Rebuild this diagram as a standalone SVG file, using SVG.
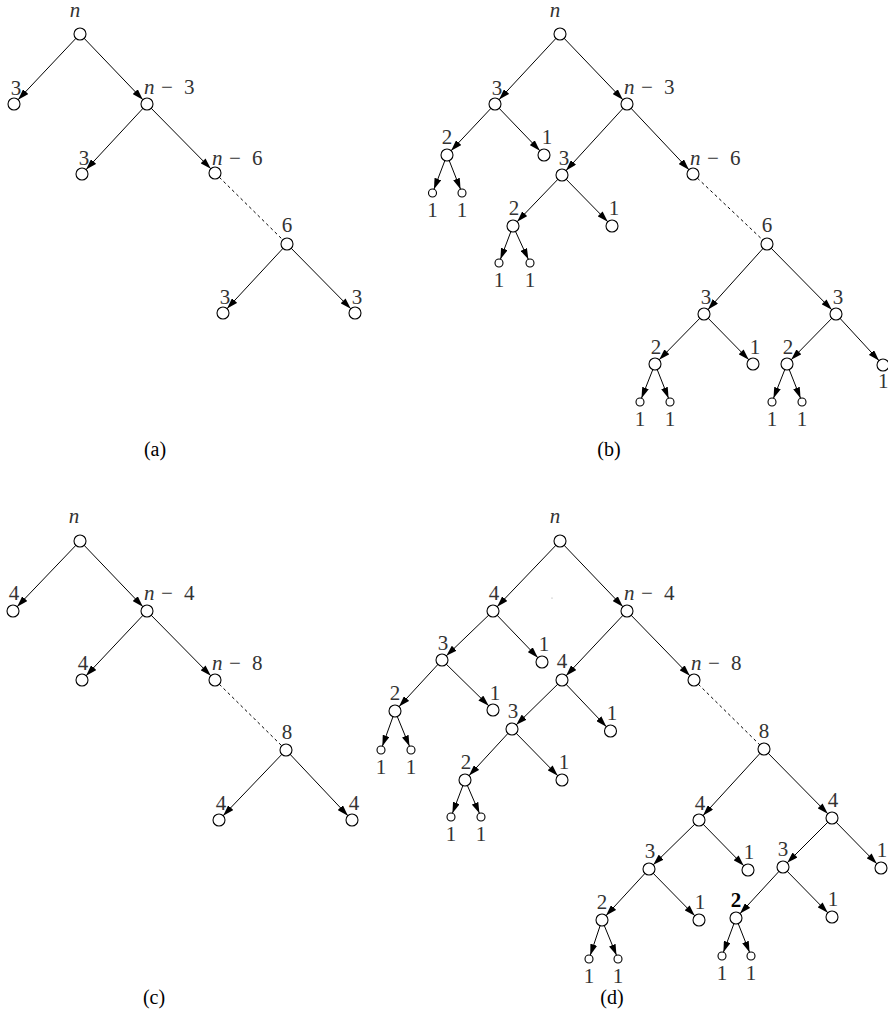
<svg xmlns="http://www.w3.org/2000/svg" width="888" height="1021" viewBox="0 0 888 1021">
<style>
text{font-family:"Liberation Serif","Times New Roman",serif;font-size:21px;fill:#333}
.m{text-anchor:middle}
.i{font-style:italic}
.cap{font-size:20px;fill:#000;text-anchor:middle}
circle{fill:#fff;stroke:#000;stroke-width:1.1}
line{stroke:#000;stroke-width:1}
.e{marker-end:url(#ah6)}
.el{marker-end:url(#ah4)}
.d{stroke-dasharray:3,3}
</style>
<defs>
<marker id="ah6" markerUnits="userSpaceOnUse" markerWidth="11" markerHeight="7" refX="17" refY="3.5" orient="auto"><path d="M0,0 L11,3.5 L0,7 z" fill="#000"/></marker>
<marker id="ah4" markerUnits="userSpaceOnUse" markerWidth="11" markerHeight="7" refX="15" refY="3.5" orient="auto"><path d="M0,0 L11,3.5 L0,7 z" fill="#000"/></marker>
</defs>
<g id="connectors">
<line class="e" x1="80" y1="34" x2="14" y2="104"/>
<line class="e" x1="80" y1="34" x2="147" y2="104"/>
<line class="e" x1="147" y1="104" x2="82" y2="174"/>
<line class="e" x1="147" y1="104" x2="215" y2="173"/>
<line class="d" x1="215" y1="173" x2="287" y2="244"/>
<line class="e" x1="287" y1="244" x2="223" y2="313"/>
<line class="e" x1="287" y1="244" x2="355" y2="313"/>
<line class="e" x1="560" y1="34" x2="495" y2="104"/>
<line class="e" x1="560" y1="34" x2="627" y2="104"/>
<line class="e" x1="495" y1="104" x2="447" y2="155"/>
<line class="e" x1="495" y1="104" x2="544" y2="155"/>
<line class="el" x1="447" y1="155" x2="432.5" y2="193"/>
<line class="el" x1="447" y1="155" x2="462" y2="193"/>
<line class="e" x1="627" y1="104" x2="562" y2="175"/>
<line class="e" x1="627" y1="104" x2="693" y2="174"/>
<line class="e" x1="562" y1="175" x2="513" y2="226"/>
<line class="e" x1="562" y1="175" x2="612" y2="226"/>
<line class="el" x1="513" y1="226" x2="499" y2="263"/>
<line class="el" x1="513" y1="226" x2="530" y2="263"/>
<line class="d" x1="693" y1="174" x2="767" y2="244"/>
<line class="e" x1="767" y1="244" x2="704" y2="314"/>
<line class="e" x1="767" y1="244" x2="836" y2="314"/>
<line class="e" x1="704" y1="314" x2="655" y2="364"/>
<line class="e" x1="704" y1="314" x2="753" y2="364"/>
<line class="el" x1="655" y1="364" x2="640" y2="402"/>
<line class="el" x1="655" y1="364" x2="670" y2="402"/>
<line class="e" x1="836" y1="314" x2="787" y2="364"/>
<line class="e" x1="836" y1="314" x2="883" y2="365"/>
<line class="el" x1="787" y1="364" x2="772" y2="402"/>
<line class="el" x1="787" y1="364" x2="802" y2="402"/>
<line class="e" x1="80" y1="541" x2="13" y2="611"/>
<line class="e" x1="80" y1="541" x2="147" y2="611"/>
<line class="e" x1="147" y1="611" x2="82" y2="680"/>
<line class="e" x1="147" y1="611" x2="215" y2="680"/>
<line class="d" x1="215" y1="680" x2="286" y2="750"/>
<line class="e" x1="286" y1="750" x2="219" y2="820"/>
<line class="e" x1="286" y1="750" x2="352" y2="820"/>
<line class="e" x1="560" y1="541" x2="493" y2="611"/>
<line class="e" x1="560" y1="541" x2="627" y2="611"/>
<line class="e" x1="493" y1="611" x2="442" y2="660"/>
<line class="e" x1="493" y1="611" x2="542" y2="662"/>
<line class="e" x1="442" y1="660" x2="395" y2="711"/>
<line class="e" x1="442" y1="660" x2="493" y2="710"/>
<line class="el" x1="395" y1="711" x2="381" y2="750"/>
<line class="el" x1="395" y1="711" x2="411" y2="750"/>
<line class="e" x1="627" y1="611" x2="562" y2="680"/>
<line class="e" x1="627" y1="611" x2="694" y2="680"/>
<line class="e" x1="562" y1="680" x2="512" y2="729"/>
<line class="e" x1="562" y1="680" x2="610.5" y2="731"/>
<line class="e" x1="512" y1="729" x2="465" y2="780"/>
<line class="e" x1="512" y1="729" x2="562" y2="780"/>
<line class="el" x1="465" y1="780" x2="451" y2="817"/>
<line class="el" x1="465" y1="780" x2="481" y2="817"/>
<line class="d" x1="694" y1="680" x2="764" y2="749"/>
<line class="e" x1="764" y1="749" x2="699" y2="820"/>
<line class="e" x1="764" y1="749" x2="832" y2="818"/>
<line class="e" x1="699" y1="820" x2="649" y2="869"/>
<line class="e" x1="699" y1="820" x2="748" y2="870"/>
<line class="e" x1="649" y1="869" x2="602" y2="920"/>
<line class="e" x1="649" y1="869" x2="699" y2="920"/>
<line class="el" x1="602" y1="920" x2="589" y2="959"/>
<line class="el" x1="602" y1="920" x2="618" y2="959"/>
<line class="e" x1="832" y1="818" x2="783" y2="867"/>
<line class="e" x1="832" y1="818" x2="881" y2="868"/>
<line class="e" x1="783" y1="867" x2="736" y2="918"/>
<line class="e" x1="783" y1="867" x2="832" y2="917"/>
<line class="el" x1="736" y1="918" x2="722" y2="956"/>
<line class="el" x1="736" y1="918" x2="751" y2="956"/>
</g>
<g id="a0"><circle cx="80" cy="34" r="6"/><text class="m i" x="75" y="17">n</text></g>
<g id="a1"><circle cx="14" cy="104" r="6"/><text class="m" x="16" y="95">3</text></g>
<g id="a2"><circle cx="147" cy="104" r="6"/><text y="94"><tspan class="i" x="144">n</tspan><tspan x="161">−</tspan><tspan x="184">3</tspan></text></g>
<g id="a3"><circle cx="82" cy="174" r="6"/><text class="m" x="84" y="165">3</text></g>
<g id="a4"><circle cx="215" cy="173" r="6"/><text y="165"><tspan class="i" x="212">n</tspan><tspan x="229">−</tspan><tspan x="252">6</tspan></text></g>
<g id="a5"><circle cx="287" cy="244" r="6"/><text class="m" x="287" y="232">6</text></g>
<g id="a6"><circle cx="223" cy="313" r="6"/><text class="m" x="225" y="304">3</text></g>
<g id="a7"><circle cx="355" cy="313" r="6"/><text class="m" x="357" y="304">3</text></g>
<text class="cap" x="155" y="456">(a)</text>
<g id="b0"><circle cx="560" cy="34" r="6"/><text class="m i" x="555" y="17">n</text></g>
<g id="b1"><circle cx="495" cy="104" r="6"/><text class="m" x="497" y="95">3</text></g>
<g id="b2"><circle cx="627" cy="104" r="6"/><text y="94"><tspan class="i" x="624">n</tspan><tspan x="641">−</tspan><tspan x="664">3</tspan></text></g>
<g id="b3"><circle cx="447" cy="155" r="6"/><text class="m" x="447" y="144">2</text></g>
<g id="b4"><circle cx="544" cy="155" r="6"/><text class="m" x="547" y="144">1</text></g>
<g id="b5"><circle cx="432.5" cy="193" r="4"/><text class="m" x="432.5" y="217">1</text></g>
<g id="b6"><circle cx="462" cy="193" r="4"/><text class="m" x="462" y="217">1</text></g>
<g id="b7"><circle cx="562" cy="175" r="6"/><text class="m" x="564" y="165">3</text></g>
<g id="b8"><circle cx="693" cy="174" r="6"/><text y="165"><tspan class="i" x="690">n</tspan><tspan x="707">−</tspan><tspan x="730">6</tspan></text></g>
<g id="b9"><circle cx="513" cy="226" r="6"/><text class="m" x="514" y="215">2</text></g>
<g id="b10"><circle cx="612" cy="226" r="6"/><text class="m" x="614" y="215">1</text></g>
<g id="b11"><circle cx="499" cy="263" r="4"/><text class="m" x="499" y="287">1</text></g>
<g id="b12"><circle cx="530" cy="263" r="4"/><text class="m" x="530" y="287">1</text></g>
<g id="b13"><circle cx="767" cy="244" r="6"/><text class="m" x="767" y="232">6</text></g>
<g id="b14"><circle cx="704" cy="314" r="6"/><text class="m" x="706" y="304">3</text></g>
<g id="b15"><circle cx="836" cy="314" r="6"/><text class="m" x="838" y="304">3</text></g>
<g id="b16"><circle cx="655" cy="364" r="6"/><text class="m" x="656" y="354">2</text></g>
<g id="b17"><circle cx="753" cy="364" r="6"/><text class="m" x="755" y="354">1</text></g>
<g id="b18"><circle cx="787" cy="364" r="6"/><text class="m" x="788" y="354">2</text></g>
<g id="b19"><circle cx="883" cy="365" r="6"/><text x="878" y="388">1</text></g>
<g id="b20"><circle cx="640" cy="402" r="4"/><text class="m" x="640" y="426">1</text></g>
<g id="b21"><circle cx="670" cy="402" r="4"/><text class="m" x="670" y="426">1</text></g>
<g id="b22"><circle cx="772" cy="402" r="4"/><text class="m" x="772" y="426">1</text></g>
<g id="b23"><circle cx="802" cy="402" r="4"/><text class="m" x="802" y="426">1</text></g>
<text class="cap" x="609" y="456">(b)</text>
<g id="c0"><circle cx="80" cy="541" r="6"/><text class="m i" x="74" y="523">n</text></g>
<g id="c1"><circle cx="13" cy="611" r="6"/><text class="m" x="14" y="600">4</text></g>
<g id="c2"><circle cx="147" cy="611" r="6"/><text y="600"><tspan class="i" x="144">n</tspan><tspan x="161">−</tspan><tspan x="184">4</tspan></text></g>
<g id="c3"><circle cx="82" cy="680" r="6"/><text class="m" x="83" y="670">4</text></g>
<g id="c4"><circle cx="215" cy="680" r="6"/><text y="670"><tspan class="i" x="212">n</tspan><tspan x="229">−</tspan><tspan x="252">8</tspan></text></g>
<g id="c5"><circle cx="286" cy="750" r="6"/><text class="m" x="287" y="739">8</text></g>
<g id="c6"><circle cx="219" cy="820" r="6"/><text class="m" x="221" y="810">4</text></g>
<g id="c7"><circle cx="352" cy="820" r="6"/><text class="m" x="354" y="810">4</text></g>
<text class="cap" x="154" y="1004">(c)</text>
<g id="d0"><circle cx="560" cy="541" r="6"/><text class="m i" x="555" y="523">n</text></g>
<g id="d1"><circle cx="493" cy="611" r="6"/><text class="m" x="494" y="600">4</text></g>
<g id="d2"><circle cx="627" cy="611" r="6"/><text y="600"><tspan class="i" x="624">n</tspan><tspan x="641">−</tspan><tspan x="664">4</tspan></text></g>
<g id="d3"><circle cx="442" cy="660" r="6"/><text class="m" x="443" y="650">3</text></g>
<g id="d4"><circle cx="542" cy="662" r="6"/><text class="m" x="544" y="651">1</text></g>
<g id="d5"><circle cx="562" cy="680" r="6"/><text class="m" x="562" y="668">4</text></g>
<g id="d6"><circle cx="395" cy="711" r="6"/><text class="m" x="395" y="700">2</text></g>
<g id="d7"><circle cx="493" cy="710" r="6"/><text class="m" x="495" y="700">1</text></g>
<g id="d8"><circle cx="381" cy="750" r="4"/><text class="m" x="381" y="774">1</text></g>
<g id="d9"><circle cx="411" cy="750" r="4"/><text class="m" x="411" y="774">1</text></g>
<g id="d10"><circle cx="694" cy="680" r="6"/><text y="670"><tspan class="i" x="691">n</tspan><tspan x="708">−</tspan><tspan x="731">8</tspan></text></g>
<g id="d11"><circle cx="512" cy="729" r="6"/><text class="m" x="513" y="718">3</text></g>
<g id="d12"><circle cx="610.5" cy="731" r="6"/><text class="m" x="612" y="720">1</text></g>
<g id="d13"><circle cx="465" cy="780" r="6"/><text class="m" x="466" y="769">2</text></g>
<g id="d14"><circle cx="562" cy="780" r="6"/><text class="m" x="564" y="769">1</text></g>
<g id="d15"><circle cx="451" cy="817" r="4"/><text class="m" x="451" y="841">1</text></g>
<g id="d16"><circle cx="481" cy="817" r="4"/><text class="m" x="481" y="841">1</text></g>
<g id="d17"><circle cx="764" cy="749" r="6"/><text class="m" x="764" y="738">8</text></g>
<g id="d18"><circle cx="699" cy="820" r="6"/><text class="m" x="700" y="810">4</text></g>
<g id="d19"><circle cx="832" cy="818" r="6"/><text class="m" x="833" y="807">4</text></g>
<g id="d20"><circle cx="649" cy="869" r="6"/><text class="m" x="650" y="858">3</text></g>
<g id="d21"><circle cx="748" cy="870" r="6"/><text class="m" x="749" y="859">1</text></g>
<g id="d22"><circle cx="783" cy="867" r="6"/><text class="m" x="783" y="856">3</text></g>
<g id="d23"><circle cx="881" cy="868" r="6"/><text class="m" x="882" y="857">1</text></g>
<g id="d24"><circle cx="602" cy="920" r="6"/><text class="m" x="602" y="909">2</text></g>
<g id="d25"><circle cx="699" cy="920" r="6"/><text class="m" x="700" y="909">1</text></g>
<g id="d26"><circle cx="736" cy="918" r="6"/><text class="m" x="736" y="907" style="fill:#000;font-weight:bold">2</text></g>
<g id="d27"><circle cx="832" cy="917" r="6"/><text class="m" x="833" y="906">1</text></g>
<g id="d28"><circle cx="589" cy="959" r="4"/><text class="m" x="589" y="983">1</text></g>
<g id="d29"><circle cx="618" cy="959" r="4"/><text class="m" x="618" y="983">1</text></g>
<g id="d30"><circle cx="722" cy="956" r="4"/><text class="m" x="722" y="980">1</text></g>
<g id="d31"><circle cx="751" cy="956" r="4"/><text class="m" x="751" y="980">1</text></g>
<text class="cap" x="612" y="1004">(d)</text>
<circle cx="552" cy="598" r="0.6" style="fill:#999;stroke:none"/>
</svg>
